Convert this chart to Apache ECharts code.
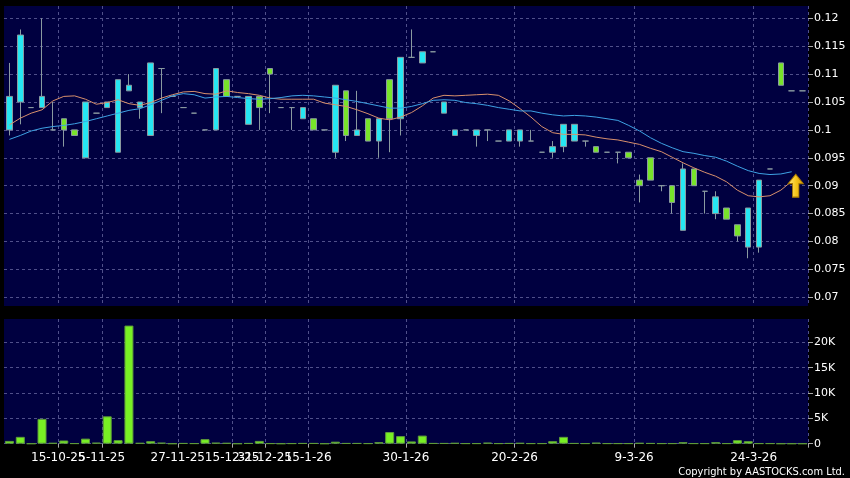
<!DOCTYPE html>
<html>
<head>
<meta charset="utf-8">
<script src="https://cdn.jsdelivr.net/npm/echarts@6/dist/echarts.min.js"></script>
<style>
html,body{margin:0;padding:0;background:#000;}
#chart{width:850px;height:478px;}
</style>
</head>
<body>
<div id="chart"></div>
<script>
// ---- data ----
const opens  = [0.100,0.105,0.104,0.104,0.100,0.102,0.100,0.095,0.103,0.104,0.096,0.107,0.104,0.099,0.111,0.106,0.104,0.103,0.100,0.100,
                0.109,0.106,0.101,0.106,0.111,0.104,0.104,0.102,0.102,0.100,0.096,0.107,0.099,0.102,0.098,0.109,0.102,0.113,0.112,0.114,
                0.103,0.099,0.100,0.099,0.100,0.098,0.098,0.098,0.098,0.096,0.096,0.097,0.098,0.098,0.097,0.096,0.096,0.096,0.091,0.095,
                0.090,0.090,0.082,0.093,0.089,0.085,0.086,0.083,0.079,0.079,0.093,0.112,0.107,0.107];
const closes = [0.106,0.117,0.104,0.106,0.100,0.100,0.099,0.105,0.103,0.105,0.109,0.108,0.105,0.112,0.111,0.106,0.104,0.103,0.100,0.111,
                0.106,0.106,0.106,0.104,0.110,0.104,0.104,0.104,0.100,0.100,0.108,0.099,0.100,0.098,0.102,0.102,0.113,0.113,0.114,0.114,
                0.105,0.100,0.100,0.100,0.100,0.098,0.100,0.100,0.098,0.096,0.097,0.101,0.101,0.098,0.096,0.096,0.096,0.095,0.090,0.091,
                0.090,0.087,0.093,0.090,0.089,0.088,0.084,0.081,0.086,0.091,0.093,0.108,0.107,0.107];
const lows   = [0.099,0.101,0.104,0.104,0.100,0.097,0.099,0.095,0.103,0.104,0.096,0.107,0.102,0.099,0.103,0.106,0.104,0.103,0.100,0.100,
                0.106,0.106,0.101,0.100,0.103,0.104,0.100,0.102,0.100,0.100,0.095,0.098,0.099,0.098,0.095,0.096,0.099,0.113,0.112,0.114,
                0.103,0.099,0.100,0.097,0.098,0.098,0.098,0.097,0.098,0.096,0.095,0.096,0.098,0.097,0.096,0.096,0.094,0.095,0.087,0.091,
                0.089,0.085,0.082,0.090,0.085,0.084,0.084,0.080,0.077,0.078,0.093,0.108,0.107,0.107];
const highs  = [0.112,0.118,0.104,0.120,0.105,0.102,0.100,0.105,0.103,0.105,0.109,0.110,0.105,0.112,0.111,0.106,0.104,0.103,0.100,0.111,
                0.109,0.106,0.106,0.106,0.111,0.104,0.104,0.104,0.102,0.100,0.108,0.107,0.107,0.102,0.102,0.109,0.113,0.118,0.114,0.114,
                0.105,0.100,0.100,0.100,0.100,0.098,0.100,0.100,0.100,0.096,0.098,0.101,0.101,0.098,0.097,0.096,0.096,0.096,0.092,0.095,
                0.090,0.090,0.094,0.093,0.089,0.089,0.086,0.083,0.086,0.091,0.093,0.112,0.107,0.107];
const volumes = [550,1350,0,4900,150,630,50,1000,200,5400,700,23300,150,500,200,0,100,50,900,200,
                 150,0,100,550,50,0,50,100,100,0,400,100,100,50,300,2300,1500,450,1600,100,
                 100,150,50,50,200,50,100,150,50,50,500,1350,100,50,200,50,50,50,150,100,
                 50,50,300,50,50,300,50,700,500,50,50,0,0,0];
const maShort = [0.1009,0.1021,0.1030,0.1036,0.1052,0.1060,0.1061,0.1055,0.1046,0.1049,0.1054,0.1047,0.1044,0.1049,0.1057,0.1063,0.1068,0.1069,0.1065,0.1064,
                 0.1070,0.1067,0.1065,0.1062,0.1057,0.1055,0.1055,0.1055,0.1055,0.1048,0.1045,0.1042,0.1036,0.1029,0.1021,0.1018,0.1023,0.1031,0.1043,0.1057,
                 0.1062,0.1061,0.1062,0.1063,0.1064,0.1062,0.1052,0.1038,0.1023,0.1006,0.0995,0.0992,0.0992,0.0991,0.0987,0.0984,0.0982,0.0978,0.0974,0.0967,
                 0.0961,0.0951,0.0941,0.0932,0.0924,0.0917,0.0907,0.0892,0.0882,0.0880,0.0882,0.0892,0.0908,'-'];
const maLong  = [0.0983,0.0990,0.0998,0.1003,0.1006,0.1008,0.1011,0.1015,0.1020,0.1025,0.1030,0.1035,0.1038,0.1045,0.1053,0.1061,0.1065,0.1063,0.1057,0.1059,
                 0.1060,0.1058,0.1056,0.1055,0.1056,0.1058,0.1061,0.1062,0.1061,0.1059,0.1057,0.1054,0.1051,0.1047,0.1043,0.1039,0.1039,0.1042,0.1047,0.1053,
                 0.1054,0.1053,0.1049,0.1047,0.1044,0.1040,0.1037,0.1034,0.1034,0.1030,0.1027,0.1025,0.1026,0.1025,0.1023,0.1020,0.1017,0.1008,0.0998,0.0986,
                 0.0976,0.0968,0.0961,0.0958,0.0954,0.0951,0.0944,0.0935,0.0927,0.0922,0.0920,0.0921,0.0925,'-'];
const dateTickIndex = [5, 9, 16, 21, 24, 28, 37, 47, 58, 69];
const dateTickLabels = ['15-10-25','5-11-25','27-11-25','15-12-25','31-12-25','15-1-26','30-1-26','20-2-26','9-3-26','24-3-26'];
const priceTicks = [0.07,0.075,0.08,0.085,0.09,0.095,0.1,0.105,0.11,0.115,0.12];
const volumeTicks = [0,5000,10000,15000,20000];
const arrowPoint = [72, 0.0900];

// ---- build ----
const N = opens.length;
const categories = opens.map((_, i) => {
  const k = dateTickIndex.indexOf(i);
  return k >= 0 ? dateTickLabels[k] : '';
});
const candleData = opens.map((o, i) => [o, closes[i], lows[i], highs[i]]);
const isDateTick = (idx) => dateTickIndex.indexOf(idx) >= 0;
// first and last categories carry empty labels so that the library's
// min/max-label overlap check does not hide a real date label
const isLabelSlot = (idx) => idx === 0 || idx === N - 1 || isDateTick(idx);

const NAVY = '#000040';
const GRIDC = '#50508a';
const WHITE = '#ffffff';

const chart = echarts.init(document.getElementById('chart'), null, {renderer: 'canvas'});
chart.setOption({
  backgroundColor: '#000000',
  animation: false,
  title: {
    text: 'Copyright by AASTOCKS.com Ltd.',
    right: 5, bottom: 0, padding: 0,
    textStyle: {color: WHITE, fontSize: 11, fontWeight: 'normal', fontFamily: "'DejaVu Sans Condensed', 'Liberation Sans'"}
  },
  grid: [
    {left: 4, width: 804, top: 6, height: 300, show: true, backgroundColor: NAVY, borderWidth: 0},
    {left: 4, width: 804, top: 319, height: 124.7, show: true, backgroundColor: NAVY, borderWidth: 0}
  ],
  xAxis: [
    {
      type: 'category', gridIndex: 0, data: categories, boundaryGap: true,
      axisLine: {show: false}, axisTick: {show: false}, axisLabel: {show: false},
      splitLine: {show: true, interval: (idx) => isDateTick(idx), lineStyle: {color: GRIDC, type: [3, 3], width: 1}}
    },
    {
      type: 'category', gridIndex: 1, data: categories, boundaryGap: true,
      axisLine: {show: false},
      axisTick: {show: true, interval: (idx) => isDateTick(idx), length: 4, lineStyle: {color: '#aaaaaa'}},
      axisLabel: {
        show: true, interval: (idx) => isLabelSlot(idx), color: WHITE, fontSize: 12,
        fontFamily: "'DejaVu Sans', sans-serif", margin: 8, padding: [0, 11, 0, 0],
        hideOverlap: false,
        formatter: (v) => v
      },
      splitLine: {show: true, interval: (idx) => isDateTick(idx), lineStyle: {color: GRIDC, type: [3, 3], width: 1}}
    }
  ],
  yAxis: [
    {
      type: 'value', gridIndex: 0, position: 'right', scale: true,
      min: 0.068441, max: 0.122204,
      axisLine: {show: false},
      axisTick: {show: true, customValues: priceTicks, length: 5, lineStyle: {color: '#aaaaaa'}},
      axisLabel: {customValues: priceTicks, color: WHITE, fontSize: 11, fontFamily: "'DejaVu Sans', sans-serif", margin: 6,
                  formatter: (v) => String(+v.toFixed(3))},
      splitLine: {show: true, lineStyle: {color: GRIDC, type: [3, 3], width: 1}}
    },
    {
      type: 'value', gridIndex: 1, position: 'right',
      min: 0, max: 24600,
      axisLine: {show: false},
      axisTick: {show: true, customValues: volumeTicks, length: 5, lineStyle: {color: '#aaaaaa'}},
      axisLabel: {customValues: volumeTicks, color: WHITE, fontSize: 11, fontFamily: "'DejaVu Sans', sans-serif", margin: 6,
                  formatter: (v) => v === 0 ? '0' : (v / 1000) + 'K'},
      splitLine: {show: true, lineStyle: {color: GRIDC, type: [3, 3], width: 1}}
    }
  ],
  series: [
    {
      type: 'candlestick', xAxisIndex: 0, yAxisIndex: 0, data: candleData,
      barWidth: 6, z: 2,
      itemStyle: {
        color: '#26e6f2', color0: '#78e42a',
        borderColor: '#8a9aa0', borderColor0: '#8a9aa0', borderColorDoji: '#8a9aa0', borderWidth: 1
      }
    },
    {
      type: 'line', xAxisIndex: 0, yAxisIndex: 0, data: maShort, showSymbol: false, symbol: 'none', z: 3,
      lineStyle: {color: '#d8906c', width: 1}
    },
    {
      type: 'line', xAxisIndex: 0, yAxisIndex: 0, data: maLong, showSymbol: false, symbol: 'none', z: 3,
      lineStyle: {color: '#3ea2e4', width: 1},
      markPoint: {
        silent: true,
        symbol: 'path://M7,0 L14,9 L10,9 L10,22 L4,22 L4,9 L0,9 Z',
        symbolSize: [15, 23], symbolKeepAspect: false, symbolOffset: [4, 0],
        label: {show: false},
        itemStyle: {
          color: {type: 'linear', x: 0, y: 0, x2: 1, y2: 0, colorStops: [
            {offset: 0, color: '#ffe98a'}, {offset: 0.5, color: '#f7c81e'}, {offset: 1, color: '#d99a00'}]},
          borderColor: '#a87800', borderWidth: 1
        },
        data: [{coord: arrowPoint}]
      }
    },
    {
      type: 'bar', xAxisIndex: 1, yAxisIndex: 1, data: volumes, barWidth: 9,
      itemStyle: {color: '#78f024', borderColor: '#5e9a3a', borderWidth: 1}
    }
  ]
});
</script>
</body>
</html>
